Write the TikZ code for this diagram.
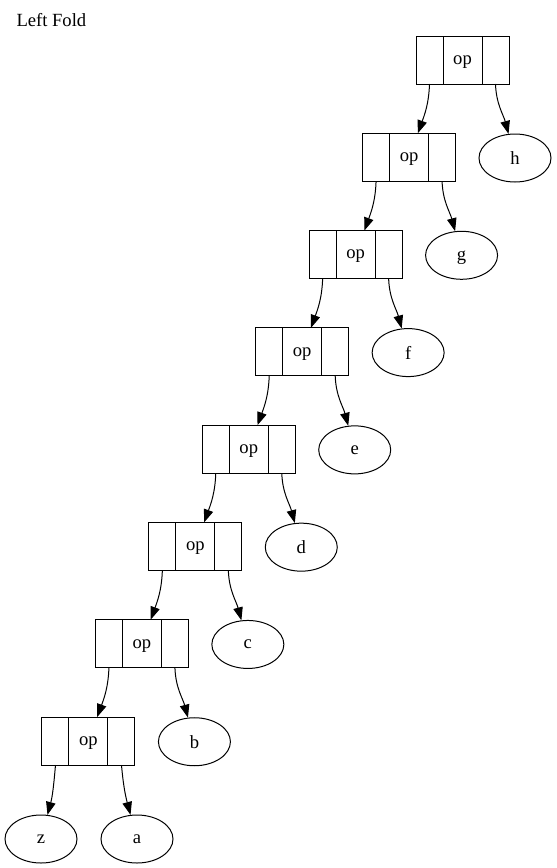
\documentclass[tikz,border=0pt]{standalone}
\usepackage{fontspec}
\setmainfont{Liberation Serif}
\usetikzlibrary{shapes,arrows.meta,positioning}

\begin{document}
\begin{tikzpicture}[x=1pt, y=-1pt, line width=1pt, font=\fontsize{18.6}{22}\selectfont,
        cell/.style={draw, minimum height=48pt, inner sep=0pt, outer sep=0pt, text depth=0pt, anchor=north west},
        side/.style={cell, minimum width=27pt},
        mid/.style={cell, minimum width=39pt},
        leaf/.style={draw, ellipse, minimum width=72pt, minimum height=48pt, inner sep=0pt, text depth=0pt},
        edge/.style={-{Triangle[length=13pt, width=9.5pt]}}]
        \useasboundingbox (0,0) rectangle (557,868);

        \node[anchor=west, inner sep=0pt] (title) at (16,20) {Left Fold};

        % the op records, one per level
        \foreach \i in {0,...,7} {
            \node[side] (l\i) at ({416-53.43*\i}, {36+97.29*\i}) {};
            \node[mid] (m\i) at (l\i.north east) {op};
            \node[side] (r\i) at (m\i.north east) {};
        }

        % leaves
        \foreach \t [count=\i from 0] in {h,g,f,e,d,c,b}
            \node[leaf] (\t) at ({515-53.43*\i}, {158+97.29*\i}) {\t};
        \node[leaf] (z) at (41,839) {z};
        \node[leaf] (a) at (137,839) {a};

        % edges
        \foreach \i in {0,...,6} {
            \pgfmathtruncatemacro{\j}{\i+1}
            \draw[edge] (l\i.south) to[out=-92, in=70] (m\j);
        }
        \foreach \t [count=\i from 0] in {h,g,f,e,d,c,b}
            \draw[edge] (r\i.south) to[out=-88, in=105] (\t);
        \draw[edge] (l7.south) to[out=-95, in=75] (z);
        \draw[edge] (r7.south) to[out=-85, in=105] (a);
    \end{tikzpicture}
\end{document}
